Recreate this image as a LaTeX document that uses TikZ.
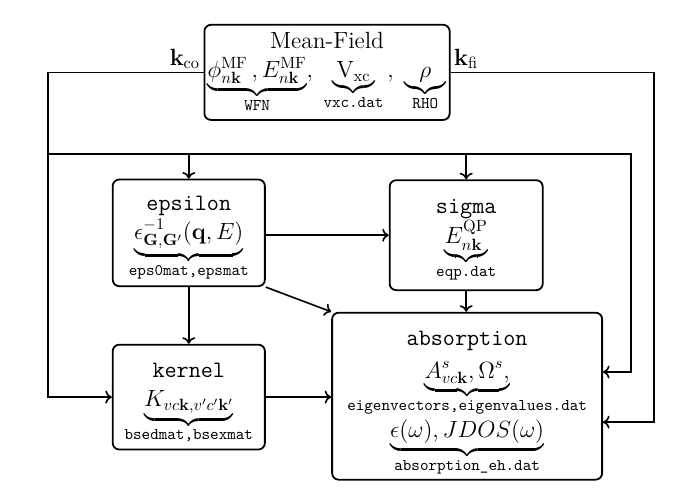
\documentclass[tikz,border=0pt]{standalone}
\usepackage{amsmath,amssymb}
\usetikzlibrary{arrows.meta}
\tikzset{
  box/.style={draw, line width=1.1pt, rounded corners=4pt, align=center, font=\Large, inner sep=2pt},
  flow/.style={line width=1pt, -{To[length=4pt,width=8pt]}},
}
\newcommand{\toppad}[1]{\rule{0pt}{#1}}
\begin{document}
\begin{tikzpicture}
\useasboundingbox (0,0) rectangle (15.09,10.59);

% boxes
\node[box, minimum width=5.28cm, minimum height=2.05cm] (mf) at (7.05,9.03)
  {Mean-Field\\
   $\underbrace{\phi^{\mathrm{MF}}_{n\mathbf{k}}\,, E^{\mathrm{MF}}_{n\mathbf{k}}}_{\text{\texttt{WFN}}},\;
    \underbrace{\mathrm{V}_{\mathrm{xc}}}_{\text{\texttt{vxc.dat}}}\,,\;
    \underbrace{\rho}_{\text{\texttt{RHO}}}$};
\node[box, minimum width=3.28cm, minimum height=2.30cm] (eps) at (4.07,5.57)
  {\toppad{16pt}\texttt{epsilon}\\
   $\underbrace{\epsilon^{-1}_{\mathbf{G},\mathbf{G}'}(\mathbf{q},E)}_{\text{\texttt{eps0mat,epsmat}}}$};
\node[box, minimum width=3.30cm, minimum height=2.37cm] (sig) at (10.05,5.52)
  {\toppad{16pt}\texttt{sigma}\\
   $\underbrace{E^{\mathrm{QP}}_{n\mathbf{k}}}_{\text{\texttt{eqp.dat}}}$};
\node[box, minimum width=3.28cm, minimum height=2.26cm] (ker) at (4.07,2.03)
  {\toppad{17pt}\texttt{kernel}\\
   $\underbrace{K_{vc\mathbf{k},v'c'\mathbf{k}'}}_{\text{\texttt{bsedmat,bsexmat}}}$};
\node[box, minimum width=5.82cm, minimum height=3.60cm] (abs) at (10.07,2.05)
  {\toppad{18pt}\texttt{absorption}\\[2pt]
   $\underbrace{A^s_{vc\mathbf{k}},\Omega^s,}_{\text{\texttt{eigenvectors,eigenvalues.dat}}}$\\[1pt]
   $\underbrace{\epsilon(\omega),JDOS(\omega)}_{\text{\texttt{absorption\_eh.dat}}}$};

% k labels
\node[above left, font=\Large, inner sep=2pt] (kco) at (mf.west) {$\mathbf{k}_{\mathrm{co}}$};
\node[above right, font=\Large, inner sep=2pt] (kfi) at (mf.east) {$\mathbf{k}_{\mathrm{fi}}$};

% coarse grid lines
\coordinate (lt) at (1.035,9.03);
\coordinate (bus) at (1.035,7.27);
\coordinate (busr) at (13.60,7.27);
\draw[flow] (mf.west) -- (lt) |- (ker.west);
\draw[flow] (bus) -- (busr) |- ([yshift=0.52cm]abs.east);
\draw[flow] (eps.north |- bus) -- (eps.north);
\draw[flow] (sig.north |- bus) -- (sig.north);

% fine grid line
\coordinate (rt) at (14.10,9.03);
\draw[flow] (mf.east) -- (rt) |- ([yshift=-0.56cm]abs.east);

% between codes
\draw[flow] (eps.east |- 0,5.52) -- (sig.west |- 0,5.52);
\draw[flow] (eps.south) -- (ker.north);
\draw[flow] (eps.south east) -- (abs.north west);
\draw[flow] (sig.south) -- (sig.south |- abs.north);
\draw[flow] (ker.east) -- (ker.east -| abs.west);
\end{tikzpicture}
\end{document}
